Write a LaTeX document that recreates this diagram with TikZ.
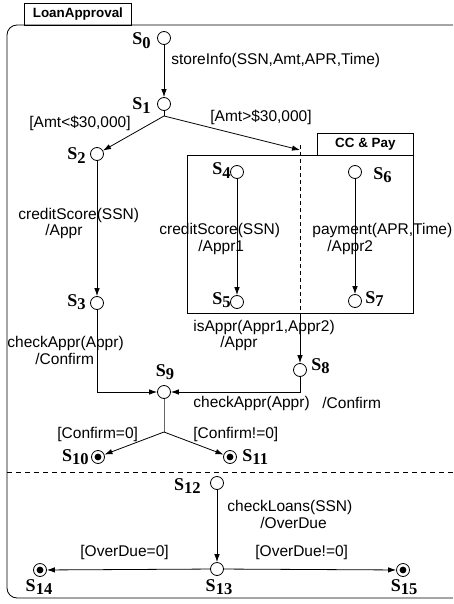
\documentclass[tikz,border=0pt]{standalone}
\usepackage{fontspec}
\setmainfont{Liberation Sans}
\newfontfamily\statefont{Liberation Serif}
\usetikzlibrary{arrows.meta}

% state name: bold serif S with a lowered bold index
\newcommand{\stname}[1]{{\statefont\bfseries\fontsize{18}{18}\selectfont S\raisebox{-3.5pt}{\fontsize{16.5}{16.5}\selectfont #1}}}

\tikzset{
  stnode/.style={circle, draw, minimum size=13pt, inner sep=0pt, line width=0.8pt},
  finalnode/.style={stnode, path picture={\fill (path picture bounding box.center) circle (3.4pt);}},
  arr/.style={-{Latex[length=8pt,width=5.5pt]}},
  lbl/.style={anchor=west, inner sep=0pt},
  tabbox/.style={draw, anchor=north west, inner sep=0pt, minimum height=22pt, font=\bfseries\fontsize{13.4}{15}\selectfont},
}

\begin{document}
\begin{tikzpicture}[x=1pt, y=-1pt, line width=0.8pt, font=\fontsize{15.5}{17}\selectfont]
\useasboundingbox (0,0) rectangle (453,604);

% outer frame with its name tab
\draw[rounded corners=10pt] (453,25) -- (7,25) -- (7,598) -- (453,598);
\node[tabbox, minimum width=107pt] (tab) at (24,3) {LoanApproval};

% concurrent region "CC & Pay"
\draw (187,155) rectangle (413,313);
\node[tabbox, minimum width=96pt] (cctab) at (317,133) {CC \& Pay};
\draw[dashed, dash pattern=on 4pt off 3pt] (300,145) -- (300,313);

% region separator
\draw[dashed, dash pattern=on 5pt off 4pt] (7,472) -- (453,472);

% states
\node[stnode] (s0) at (164,38) {};
\node[stnode] (s1) at (164,104) {};
\node[stnode] (s2) at (97,154) {};
\node[stnode] (s3) at (97,303) {};
\node[stnode] (s4) at (237,172) {};
\node[stnode] (s5) at (237,302) {};
\node[stnode] (s6) at (355,172) {};
\node[stnode] (s7) at (355,301) {};
\node[stnode] (s8) at (300,370) {};
\node[stnode] (s9) at (164,392) {};
\node[finalnode] (s10) at (98,457) {};
\node[finalnode] (s11) at (230,457) {};
\node[stnode] (s12) at (217,483) {};
\node[stnode] (s13) at (217,569) {};
\node[finalnode] (s14) at (40,570) {};
\node[finalnode] (s15) at (403,570) {};

% state names
\node[inner sep=0pt, anchor=base east] (n0) at (151,45) {\stname{0}};
\node[inner sep=0pt, anchor=base east] (n1) at (151,110) {\stname{1}};
\node[inner sep=0pt, anchor=base east] (n2) at (86,160) {\stname{2}};
\node[inner sep=0pt, anchor=base east] (n3) at (86,306) {\stname{3}};
\node[inner sep=0pt, anchor=base east] (n4) at (231,175) {\stname{4}};
\node[inner sep=0pt, anchor=base east] (n5) at (231,304) {\stname{5}};
\node[inner sep=0pt, anchor=base west] (n6) at (373,179) {\stname{6}};
\node[inner sep=0pt, anchor=base west] (n7) at (365,303) {\stname{7}};
\node[inner sep=0pt, anchor=base west] (n8) at (311,370) {\stname{8}};
\node[inner sep=0pt, anchor=base] (n9) at (165,376) {\stname{9}};
\node[inner sep=0pt, anchor=base east] (n10) at (89,461) {\stname{10}};
\node[inner sep=0pt, anchor=base west] (n11) at (242,461) {\stname{11}};
\node[inner sep=0pt, anchor=base east] (n12) at (201,490) {\stname{12}};
\node[inner sep=0pt, anchor=base] (n13) at (219,591) {\stname{13}};
\node[inner sep=0pt, anchor=base] (n14) at (39,591) {\stname{14}};
\node[inner sep=0pt, anchor=base] (n15) at (404,591) {\stname{15}};

% junctions and free ends
\coordinate (j1) at (164,116);
\coordinate (fork) at (300,150);
\coordinate (ccout) at (300,313);
\coordinate (j9) at (164,432);

% transitions
\draw[arr] (s0) -- (s1);
\draw (s1) -- (j1);
\draw[arr] (j1) -- (s2);
\draw[arr] (j1) -- (fork);
\draw[arr] (s2) -- (s3);
\draw[arr] (s4) -- (s5);
\draw[arr] (s6) -- (s7);
\draw[arr] (ccout) -- (s8);
\draw[arr] (s3) |- (s9);
\draw[arr] (s8) |- (s9);
\draw[black!60] (s9) -- (j9);
\draw[arr] (j9) -- (s10);
\draw[arr] (j9) -- (s11);
\draw[arr] (s12) -- (s13);
\draw[arr] (s13) -- (s14);
\draw[arr] (s13) -- (s15);

% transition labels
\node[lbl] (t01) at (171,60) {storeInfo(SSN,Amt,APR,Time)};
\node[lbl] (g12) at (29,123) {[Amt<\$30,000]};
\node[lbl] (g1c) at (210,117) {[Amt>\$30,000]};
\node[lbl] (t23a) at (18,215) {creditScore(SSN)};
\node[lbl] (t23b) at (45,231) {/Appr};
\node[lbl] (t45a) at (159,230) {creditScore(SSN)};
\node[lbl] (t45b) at (198,247) {/Appr1};
\node[lbl] (t67a) at (312,230) {payment(APR,Time)};
\node[lbl] (t67b) at (327,247) {/Appr2};
\node[lbl] (tc8a) at (193,327) {isAppr(Appr1,Appr2)};
\node[lbl] (tc8b) at (220,343) {/Appr};
\node[lbl] (t39a) at (7,343) {checkAppr(Appr)};
\node[lbl] (t39b) at (35,359) {/Confirm};
\node[lbl] (t89a) at (193,403) {checkAppr(Appr)};
\node[lbl] (t89b) at (322,403) {/Confirm};
\node[lbl] (g910) at (57,434) {[Confirm=0]};
\node[lbl] (g911) at (193,434) {[Confirm!=0]};
\node[lbl] (t1213a) at (227,507) {checkLoans(SSN)};
\node[lbl] (t1213b) at (260,523) {/OverDue};
\node[lbl] (g1314) at (80,552) {[OverDue=0]};
\node[lbl] (g1315) at (255,552) {[OverDue!=0]};
\end{tikzpicture}
\end{document}
